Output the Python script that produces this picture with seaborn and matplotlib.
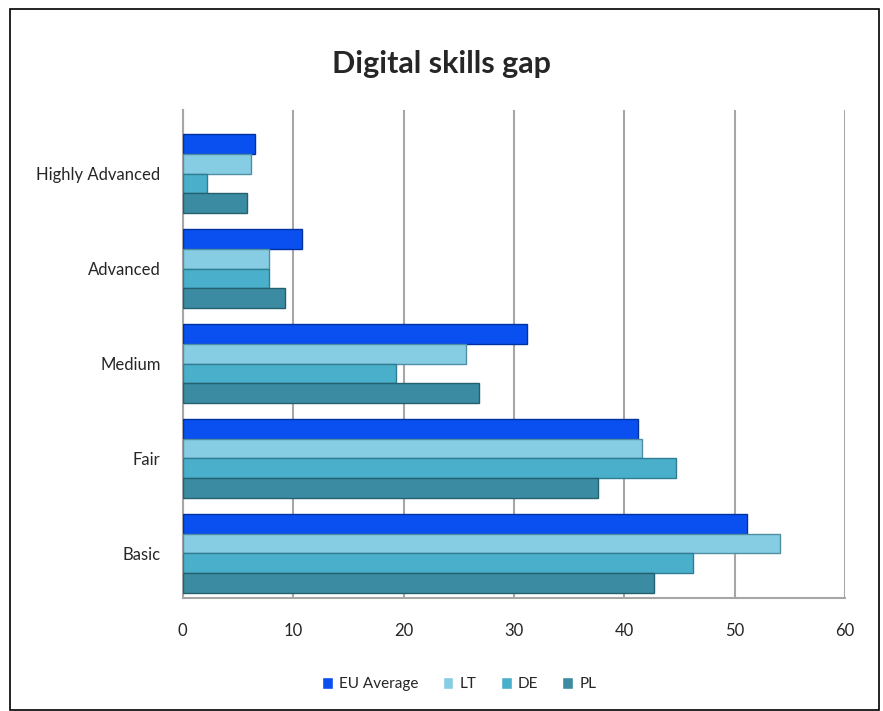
import matplotlib.pyplot as plt
import matplotlib.patches as mpatches
import seaborn as sns
import pandas as pd

levels = ["Highly Advanced", "Advanced", "Medium", "Fair", "Basic"]
series = ["EU Average", "LT", "DE", "PL"]
eu_average = [6.5, 10.8, 31.2, 41.2, 51.1]
lt = [6.2, 7.8, 25.7, 41.6, 54.1]
de = [2.2, 7.8, 19.3, 44.7, 46.2]
pl = [5.8, 9.3, 26.8, 37.6, 42.7]
colors = ["#0a4ff0", "#86cde3", "#4aafca", "#3b8ca2"]
edges = ["#0032a0", "#4e8fa3", "#2e7d92", "#25606f"]

rows = []
for name, vals in zip(series, [eu_average, lt, de, pl]):
    for lvl, v in zip(levels, vals):
        rows.append({"level": lvl, "series": name, "value": v})
df = pd.DataFrame(rows)

sns.set_style("white")
plt.rcParams["font.family"] = ["Lato", "DejaVu Sans"]

fig = plt.figure(figsize=(8.83, 7.11), dpi=100)
ax = fig.add_axes([0.207, 0.159, 0.750, 0.686])

sns.barplot(data=df, y="level", x="value", hue="series", order=levels,
            hue_order=series, palette=colors, orient="h", width=0.83,
            saturation=1, ax=ax, legend=False, zorder=3)

for cont, ec in zip(ax.containers, edges):
    for bar in cont:
        bar.set_edgecolor(ec)
        bar.set_linewidth(1.0)

ax.set_xlim(0, 60)
ax.set_ylim(4.47, -0.67)
ax.set_xticks(range(0, 61, 10))
ax.xaxis.grid(True, color="#a6a6a6", linewidth=1.5, zorder=0)
ax.tick_params(axis="y", length=0, pad=16, labelsize=12, labelcolor="#262626")
ax.tick_params(axis="x", length=0, pad=18, labelsize=12, labelcolor="#262626")
ax.set_xlabel("")
ax.set_ylabel("")
for side in ["top", "right"]:
    ax.spines[side].set_visible(False)
for side in ["left", "bottom"]:
    ax.spines[side].set_color("#a6a6a6")
    ax.spines[side].set_linewidth(1.5)

fig.suptitle("Digital skills gap", y=0.93, fontsize=22, fontweight="bold")

handles = [mpatches.Patch(facecolor=c, label=s) for c, s in zip(colors, series)]
fig.legend(handles=handles, loc="center", bbox_to_anchor=(0.52, 0.038), ncol=4,
           frameon=False, fontsize=11, handlelength=0.7, handleheight=0.9,
           handletextpad=0.4, columnspacing=1.6)

fig.patches.append(mpatches.Rectangle((0.011, 0.002), 0.985, 0.986, transform=fig.transFigure,
                                      fill=False, edgecolor="black", linewidth=1.2))

plt.savefig("out.png", dpi=100)
